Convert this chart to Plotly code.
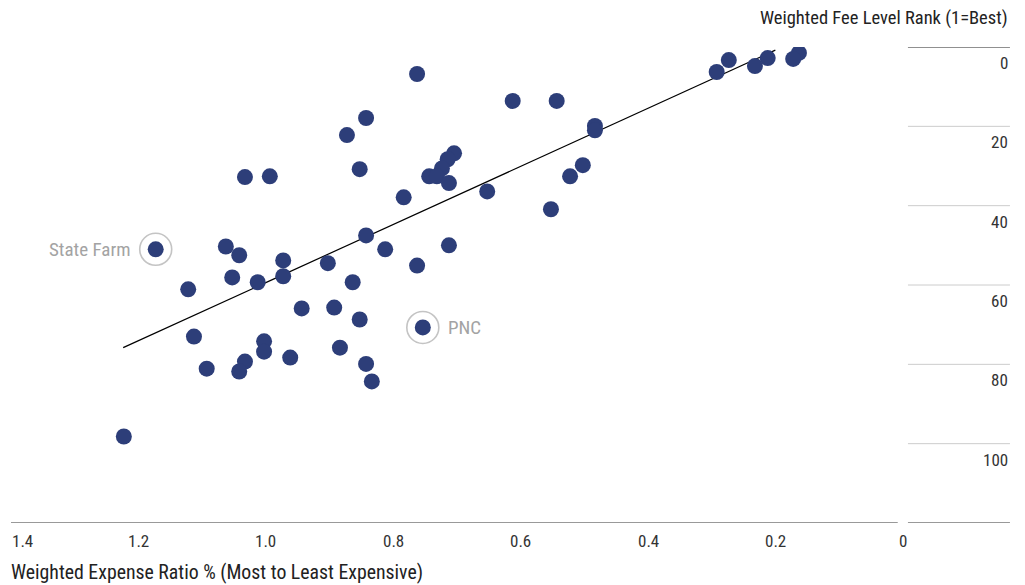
import plotly.graph_objects as go

# Weighted expense ratio (%) and weighted fee level rank for each firm
expense_ratio = [
    0.164, 0.173, 0.213, 0.233, 0.274, 0.293,
    0.763, 0.613, 0.544, 0.484, 0.484,
    0.843, 0.873, 0.705, 0.715, 0.724, 0.744, 0.732, 0.713,
    0.853, 1.033, 0.994, 0.653, 0.784,
    0.503, 0.523, 0.553,
    1.063, 1.042, 0.843, 0.713, 0.813, 0.973, 1.053, 0.903, 0.763,
    0.973, 1.013, 0.864, 1.122,
    0.944, 0.893, 0.853,
    1.113, 1.003, 1.003, 0.884, 0.962, 1.033, 1.042, 1.093, 0.843, 0.834,
    1.223,
]
fee_rank = [
    1.5, 3.0, 2.8, 4.8, 3.3, 6.3,
    6.8, 13.6, 13.6, 19.9, 21.0,
    17.9, 22.2, 26.8, 28.3, 30.6, 32.6, 32.6, 34.3,
    30.8, 32.8, 32.6, 36.4, 37.9,
    29.8, 32.6, 40.9,
    50.3, 52.5, 47.5, 50.0, 51.0, 53.8, 58.1, 54.5, 55.1,
    57.8, 59.3, 59.3, 61.1,
    65.9, 65.7, 68.7,
    73.0, 74.2, 76.8, 75.8, 78.3, 79.3, 81.8, 81.1, 79.9, 84.3,
    98.2,
]

# Highlighted firms
highlight_names = ["State Farm", "PNC"]
highlight_x = [1.173, 0.754]
highlight_y = [51.0, 70.7]

# Trend line end points
trend_x = [1.224, 0.201]
trend_y = [75.8, 0.8]

x_ticks = [1.4, 1.2, 1.0, 0.8, 0.6, 0.4, 0.2, 0]
x_tick_text = ["1.4", "1.2", "1.0", "0.8", "0.6", "0.4", "0.2", "0"]
y_ticks = [0, 20, 40, 60, 80, 100]

FONT = "Roboto Condensed, Liberation Sans Narrow, Roboto, sans-serif"
DOT = "#2d3e79"

fig = go.Figure()

fig.add_trace(go.Scatter(
    x=trend_x, y=trend_y, mode="lines",
    line=dict(color="black", width=1.2),
    hoverinfo="skip", showlegend=False,
))

fig.add_trace(go.Scatter(
    x=expense_ratio, y=fee_rank, mode="markers",
    marker=dict(size=16, color=DOT, line=dict(width=0)),
    showlegend=False,
))

# highlighted dots with a ring
fig.add_trace(go.Scatter(
    x=highlight_x, y=highlight_y, mode="markers",
    marker=dict(size=32, color="rgba(0,0,0,0)", line=dict(width=1.6, color="#c4c4c4")),
    hoverinfo="skip", showlegend=False,
))
fig.add_trace(go.Scatter(
    x=highlight_x, y=highlight_y, mode="markers",
    marker=dict(size=16, color=DOT, line=dict(width=0)),
    text=highlight_names, showlegend=False,
))

label_pos = [("right", -24), ("left", 23)]
for name, hx, hy, (anchor, shift) in zip(highlight_names, highlight_x, highlight_y, label_pos):
    fig.add_annotation(x=hx, y=hy, text=name, showarrow=False,
                       xanchor=anchor, xshift=shift,
                       font=dict(family=FONT, size=19, color="#a3a3a3"))

# x axis baseline (split) and right-side rank grid
fig.add_shape(type="line", x0=1.4, x1=0.009, y0=120, y1=120, xref="x", yref="y",
              line=dict(color="#333333", width=1))
fig.add_shape(type="line", x0=-0.007, x1=-0.167, y0=120, y1=120, xref="x", yref="y",
              line=dict(color="#333333", width=1))
for v in y_ticks:
    fig.add_shape(type="line", x0=-0.007, x1=-0.167, y0=v, y1=v, xref="x", yref="y",
                  line=dict(color="#222222" if v == 0 else "#cccccc", width=1))
    fig.add_annotation(x=1, xref="paper", y=v, yref="y", yshift=-16, text=str(v),
                       showarrow=False, xanchor="right", yanchor="middle",
                       font=dict(family=FONT, size=17, color="#333333"))

for v, t in zip(x_ticks, x_tick_text):
    fig.add_annotation(x=v, y=0, yref="paper", yshift=-18, yanchor="middle",
                       text=t, showarrow=False,
                       xanchor="left" if v == 1.4 else "center", xshift=-1 if v == 1.4 else 0,
                       font=dict(family=FONT, size=17, color="#333333"))

fig.add_annotation(x=0, xref="paper", xanchor="left", xshift=-2,
                   y=0, yref="paper", yanchor="middle", yshift=-49,
                   text="Weighted Expense Ratio % (Most to Least Expensive)", showarrow=False,
                   font=dict(family=FONT, size=19.8, color="#222222"))
fig.add_annotation(x=1, xref="paper", xanchor="right",
                   y=1, yref="paper", yanchor="middle", yshift=29,
                   text="Weighted Fee Level Rank (1=Best)", showarrow=False,
                   font=dict(family=FONT, size=18.5, color="#222222"))

# page body adds an 8px offset, so the figure is sized to fill the rest of the window
fig.update_layout(
    width=1017, height=577,
    margin=dict(l=3, r=15, t=39, b=62),
    plot_bgcolor="white", paper_bgcolor="white",
    xaxis=dict(range=[1.4, -0.1671], showgrid=False, zeroline=False,
               showticklabels=False, showline=False, fixedrange=True),
    yaxis=dict(range=[120, 0], showgrid=False, zeroline=False,
               showticklabels=False, showline=False, fixedrange=True),
    font=dict(family=FONT),
)

fig.write_html("out.html")
